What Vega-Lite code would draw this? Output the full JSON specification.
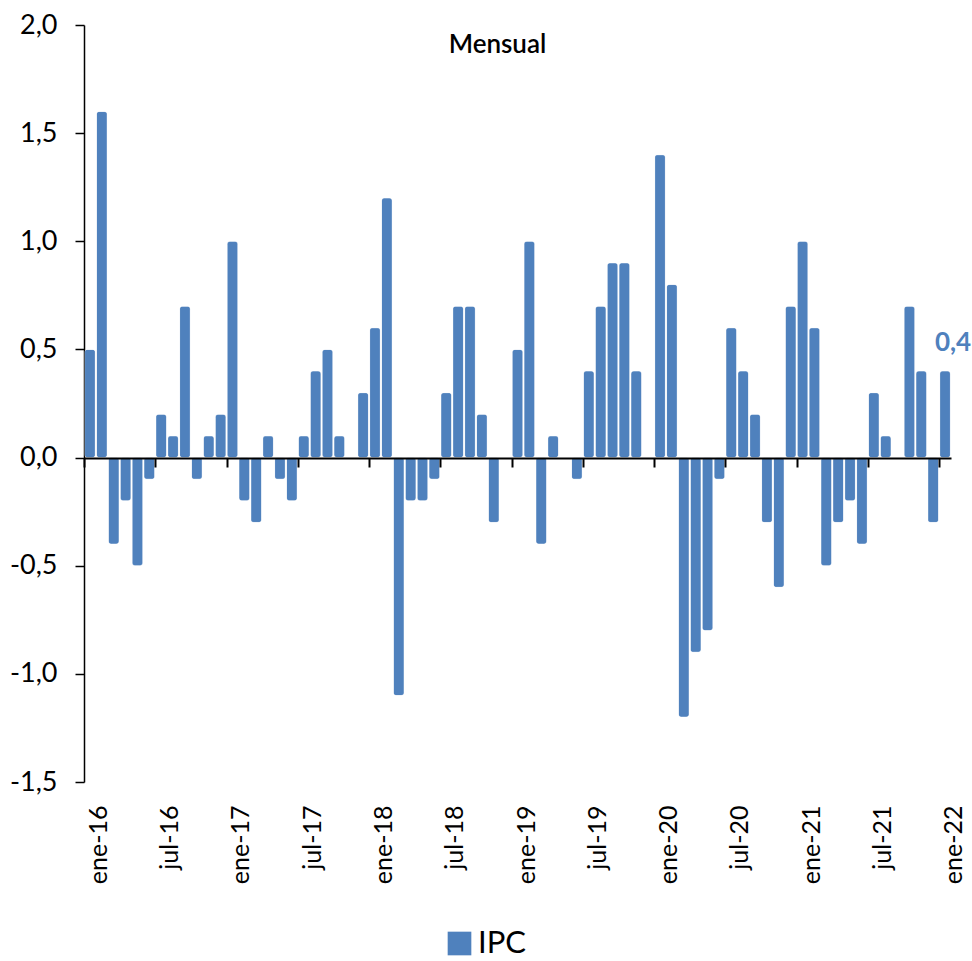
{
  "$schema": "https://vega.github.io/schema/vega-lite/v6.json",
  "autosize": "none",
  "width": 867,
  "height": 757,
  "padding": {"left": 84, "top": 25, "right": 21, "bottom": 179},
  "background": "white",
  "config": {
    "font": "Lato",
    "locale": {"number": {"decimal": ",", "thousands": ".", "grouping": [3], "currency": ["", " €"], "minus": "-"}},
    "view": {"stroke": null}
  },
  "title": {
    "text": "Mensual",
    "fontSize": 26,
    "fontWeight": 600,
    "color": "black",
    "anchor": "middle",
    "frame": "group",
    "baseline": "alphabetic",
    "offset": -68,
    "dx": -20
  },
  "data": {
    "values": [
      {"mes": "ene-16", "ipc": 0.5}, {"mes": "feb-16", "ipc": 1.6}, {"mes": "mar-16", "ipc": -0.4}, {"mes": "abr-16", "ipc": -0.2},
      {"mes": "may-16", "ipc": -0.5}, {"mes": "jun-16", "ipc": -0.1}, {"mes": "jul-16", "ipc": 0.2}, {"mes": "ago-16", "ipc": 0.1},
      {"mes": "sep-16", "ipc": 0.7}, {"mes": "oct-16", "ipc": -0.1}, {"mes": "nov-16", "ipc": 0.1}, {"mes": "dic-16", "ipc": 0.2},
      {"mes": "ene-17", "ipc": 1.0}, {"mes": "feb-17", "ipc": -0.2}, {"mes": "mar-17", "ipc": -0.3}, {"mes": "abr-17", "ipc": 0.1},
      {"mes": "may-17", "ipc": -0.1}, {"mes": "jun-17", "ipc": -0.2}, {"mes": "jul-17", "ipc": 0.1}, {"mes": "ago-17", "ipc": 0.4},
      {"mes": "sep-17", "ipc": 0.5}, {"mes": "oct-17", "ipc": 0.1}, {"mes": "nov-17", "ipc": 0.0}, {"mes": "dic-17", "ipc": 0.3},
      {"mes": "ene-18", "ipc": 0.6}, {"mes": "feb-18", "ipc": 1.2}, {"mes": "mar-18", "ipc": -1.1}, {"mes": "abr-18", "ipc": -0.2},
      {"mes": "may-18", "ipc": -0.2}, {"mes": "jun-18", "ipc": -0.1}, {"mes": "jul-18", "ipc": 0.3}, {"mes": "ago-18", "ipc": 0.7},
      {"mes": "sep-18", "ipc": 0.7}, {"mes": "oct-18", "ipc": 0.2}, {"mes": "nov-18", "ipc": -0.3}, {"mes": "dic-18", "ipc": 0.0},
      {"mes": "ene-19", "ipc": 0.5}, {"mes": "feb-19", "ipc": 1.0}, {"mes": "mar-19", "ipc": -0.4}, {"mes": "abr-19", "ipc": 0.1},
      {"mes": "may-19", "ipc": 0.0}, {"mes": "jun-19", "ipc": -0.1}, {"mes": "jul-19", "ipc": 0.4}, {"mes": "ago-19", "ipc": 0.7},
      {"mes": "sep-19", "ipc": 0.9}, {"mes": "oct-19", "ipc": 0.9}, {"mes": "nov-19", "ipc": 0.4}, {"mes": "dic-19", "ipc": 0.0},
      {"mes": "ene-20", "ipc": 1.4}, {"mes": "feb-20", "ipc": 0.8}, {"mes": "mar-20", "ipc": -1.2}, {"mes": "abr-20", "ipc": -0.9},
      {"mes": "may-20", "ipc": -0.8}, {"mes": "jun-20", "ipc": -0.1}, {"mes": "jul-20", "ipc": 0.6}, {"mes": "ago-20", "ipc": 0.4},
      {"mes": "sep-20", "ipc": 0.2}, {"mes": "oct-20", "ipc": -0.3}, {"mes": "nov-20", "ipc": -0.6}, {"mes": "dic-20", "ipc": 0.7},
      {"mes": "ene-21", "ipc": 1.0}, {"mes": "feb-21", "ipc": 0.6}, {"mes": "mar-21", "ipc": -0.5}, {"mes": "abr-21", "ipc": -0.3},
      {"mes": "may-21", "ipc": -0.2}, {"mes": "jun-21", "ipc": -0.4}, {"mes": "jul-21", "ipc": 0.3}, {"mes": "ago-21", "ipc": 0.1},
      {"mes": "sep-21", "ipc": 0.0}, {"mes": "oct-21", "ipc": 0.7}, {"mes": "nov-21", "ipc": 0.4}, {"mes": "dic-21", "ipc": -0.3},
      {"mes": "ene-22", "ipc": 0.4}
    ]
  },
  "encoding": {
    "x": {
      "field": "mes",
      "type": "ordinal",
      "sort": null,
      "scale": {"paddingInner": 0.1, "paddingOuter": 0.05},
      "axis": {
        "title": null,
        "orient": "bottom",
        "offset": -324,
        "values": ["ene-16", "jul-16", "ene-17", "jul-17", "ene-18", "jul-18", "ene-19", "jul-19", "ene-20", "jul-20", "ene-21", "jul-21", "ene-22"],
        "bandPosition": 0,
        "labelOffset": 9,
        "labelAngle": -90,
        "labelPadding": 338,
        "labelFontSize": 25,
        "labelColor": "black",
        "labelOverlap": false,
        "labelFlush": false,
        "tickSize": 9,
        "tickWidth": 2,
        "tickColor": "black",
        "domainColor": "black",
        "domainWidth": 2,
        "grid": false,
        "zindex": 1
      }
    },
    "y": {
      "field": "ipc",
      "type": "quantitative",
      "scale": {"domain": [-1.5, 2.0], "nice": false, "zero": false},
      "axis": {
        "title": null,
        "values": [-1.5, -1.0, -0.5, 0, 0.5, 1.0, 1.5, 2.0],
        "format": ".1f",
        "labelFontSize": 27,
        "labelColor": "black",
        "labelPadding": 18,
        "tickSize": 9,
        "tickWidth": 1.5,
        "tickColor": "black",
        "domainColor": "black",
        "domainWidth": 1.5,
        "grid": false
      }
    }
  },
  "layer": [
    {
      "mark": {"type": "bar", "cornerRadius": 3, "stroke": "white", "strokeWidth": 0.5, "strokeOpacity": 0.6},
      "encoding": {
        "color": {
          "datum": "IPC",
          "type": "nominal",
          "scale": {"range": ["#4F81BD"]},
          "legend": {
            "title": null,
            "orient": "none",
            "legendX": 360,
            "legendY": 903,
            "symbolType": "square",
            "symbolSize": 560,
            "symbolStrokeWidth": 0,
            "labelFontSize": 31,
            "labelColor": "black",
            "labelOffset": 3,
            "padding": 0
          }
        }
      }
    },
    {
      "transform": [{"filter": "datum.mes == 'ene-22'"}],
      "mark": {"type": "text", "fontSize": 26, "fontWeight": "bold", "color": "#4F81BD", "align": "center", "baseline": "alphabetic", "dx": 8, "dy": -20},
      "encoding": {
        "text": {"field": "ipc", "type": "quantitative", "format": ".1f"}
      }
    }
  ]
}
